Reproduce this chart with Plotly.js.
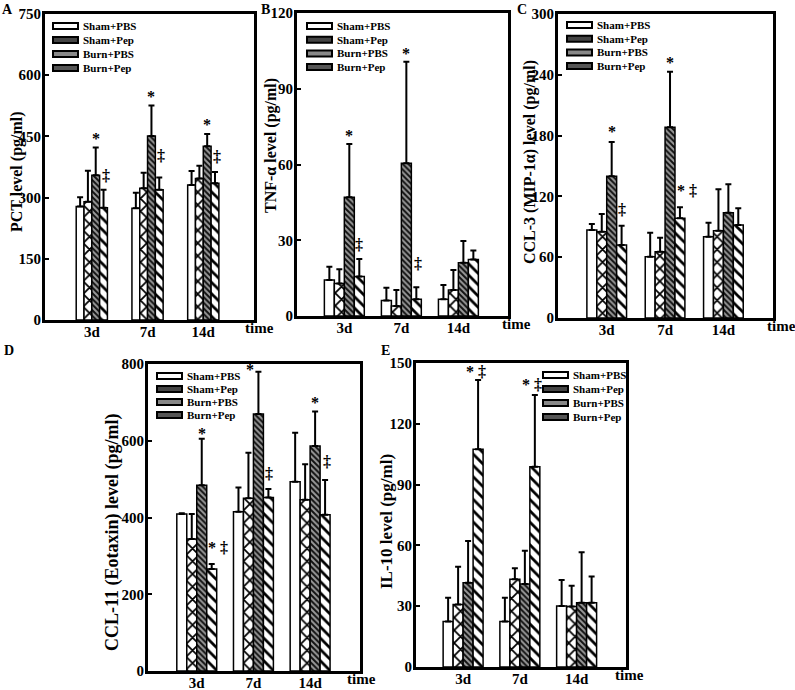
<!DOCTYPE html>
<html>
<head>
<meta charset="utf-8">
<script src="https://cdn.plot.ly/plotly-3.0.1.min.js"></script>
<style>
  body { margin: 0; background: white; }
  #chart { width: 795px; height: 690px; }
</style>
</head>
<body>
<div id="chart"></div>
<script>
// time points and groups
let cats = ['3d', '7d', '14d'];
let groups = ['Sham+PBS', 'Sham+Pep', 'Burn+PBS', 'Burn+Pep'];

// A: PCT (rows = groups, cols = time points)
let pctMean = [[278, 274, 331], [290, 323, 347], [355, 451, 426], [275, 319, 335]];
let pctSD   = [[23, 38, 34], [76, 38, 31], [68, 75, 30], [44, 30, 28]];

// B: TNF-alpha
let tnfMean = [[14.3, 6.1, 6.6], [12.9, 4.0, 10.3], [47, 60.5, 21.1], [15.6, 6.6, 22.4]];
let tnfSD   = [[5.2, 5.1, 5.7], [5.6, 6.3, 7.9], [21.1, 40.2, 8.6], [7.0, 4.8, 3.5]];

// C: CCL-3
let ccl3Mean = [[86.8, 60.5, 80.3], [85.2, 65.4, 86.2], [140, 188.2, 103.9], [72, 98.4, 91.8]];
let ccl3SD   = [[6, 23.7, 13.8], [17.4, 13.9, 40.8], [33.7, 54.8, 28], [19.1, 10.8, 16.4]];

// D: CCL-11
let ccl11Mean = [[409, 415, 493], [344, 450, 446], [484, 670, 586], [266, 452, 407]];
let ccl11SD   = [[2, 63, 128], [65, 119, 93], [121, 110, 90], [13, 22, 91]];

// E: IL-10
let il10Mean = [[22.4, 22.4, 30.1], [30.9, 43.3, 29.8], [41.6, 41.0, 31.7], [107.4, 98.8, 31.7]];
let il10SD   = [[11.8, 11.8, 12.8], [18.6, 5.4, 10.3], [20.6, 16.4, 24.9], [34.2, 35.4, 12.9]];

// significance marks: [time index, group index, text, xshift, yshift]
let pctSig = [[0, 2, '*', 0, 9], [0, 3, '‡', 2, 14], [1, 2, '*', 0, 9], [1, 3, '‡', 2, 22], [2, 2, '*', 0, 9], [2, 3, '‡', 2, 15]];
let tnfSig = [[0, 2, '*', 0, 9], [0, 3, '‡', 0, 14], [1, 2, '*', 0, 8], [1, 3, '‡', 2, 24]];
let ccl3Sig = [[0, 2, '*', 0, 10], [0, 3, '‡', 0, 16], [1, 2, '*', 0, 9], [1, 3, '* ‡', 7, 17]];
let ccl11Sig = [[0, 2, '*', 0, 5], [0, 3, '* ‡', 6, 16], [1, 2, '*', -8, 2], [1, 3, '‡', 1, 16], [2, 2, '*', 0, 9], [2, 3, '‡', 2, 18]];
let il10Sig = [[0, 3, '* ‡', -2, 9], [1, 3, '* ‡', -3, 11]];

let W = 795, H = 690;
let serif = 'Liberation Serif, Times New Roman, serif';

let styles = [
  {color: 'white', line: {color: 'black', width: 1.5}},
  {color: 'white', line: {color: 'black', width: 1.5},
   pattern: {shape: 'x', fgcolor: 'black', bgcolor: 'white', size: 9, solidity: 0.35}},
  {color: 'white', line: {color: 'black', width: 1.5},
   pattern: {shape: '\\', fgcolor: '#111', bgcolor: '#999', size: 4, solidity: 0.5}},
  {color: 'white', line: {color: 'black', width: 1.5},
   pattern: {shape: '\\', fgcolor: 'black', bgcolor: 'white', size: 8, solidity: 0.35}}
];
// fill of the small legend keys
let keyFill = ['white', '#444', '#888', '#555'];

// panel boxes in pixels: left, right, top, bottom; leg = [key left, first row y, row step]
let panels = [
  {mean: pctMean, sd: pctSD, sig: pctSig, box: [45, 254, 14, 320], xr: [-0.84, 2.91], yr: [0, 750], dt: 150, w: 0.14,
   title: 'PCT level (pg/ml)', tx: 17, ty: 172, tsize: 16, letter: 'A', lx: 7, ly: 10, time: 243, leg: [53, 26, 14]},
  {mean: tnfMean, sd: tnfSD, sig: tnfSig, box: [297, 508, 13, 316], xr: [-0.83, 2.87], yr: [0, 120], dt: 30, w: 0.175,
   title: 'TNF-α level (pg/ml)', tx: 271, ty: 146, tsize: 16, letter: 'B', lx: 265, ly: 10, time: 500, leg: [307, 26, 13.7]},
  {mean: ccl3Mean, sd: ccl3SD, sig: ccl3Sig, box: [558, 773, 14, 318], xr: [-0.835, 2.85], yr: [0, 300], dt: 60, w: 0.17,
   title: 'CCL-3 (MIP-1α) level (pg/ml)', tx: 530, ty: 162, tsize: 16, letter: 'C', lx: 522, ly: 10, time: 765, leg: [567, 25, 13.7]},
  {mean: ccl11Mean, sd: ccl11SD, sig: ccl11Sig, box: [148, 360, 364, 671], xr: [-0.86, 2.88], yr: [0, 800], dt: 200, w: 0.176,
   title: 'CCL-11 (Eotaxin) level (pg/ml)', tx: 112, ty: 533, tsize: 18, letter: 'D', lx: 9, ly: 350, time: 345, leg: [157, 376, 13]},
  {mean: il10Mean, sd: il10SD, sig: il10Sig, box: [416, 626, 363, 667], xr: [-0.83, 2.87], yr: [0, 150], dt: 30, w: 0.176,
   title: 'IL-10 level (pg/ml)', tx: 386, ty: 522, tsize: 17, letter: 'E', lx: 385, ly: 350, time: 613, leg: [543, 375, 14]}
];

let data = [];
let layout = {
  width: W, height: H,
  margin: {l: 0, r: 0, t: 0, b: 0},
  paper_bgcolor: 'white', plot_bgcolor: 'white',
  barmode: 'overlay',
  showlegend: false,
  font: {family: serif, color: 'black'},
  annotations: [],
  shapes: []
};

function txt(x, y, text, size, anchor, angle) {
  return {
    xref: 'paper', yref: 'paper', x: x / W, y: 1 - y / H,
    text: text, showarrow: false, textangle: angle || 0,
    xanchor: anchor, yanchor: 'middle',
    font: {family: serif, size: size, weight: 'bold', color: 'black'}
  };
}

panels.forEach(function(p, i) {
  let n = i + 1;
  let xs = n === 1 ? '' : String(n);

  for (let k = 0; k < 4; k++) {
    data.push({
      type: 'bar',
      x: cats,
      y: p.mean[k],
      name: groups[k],
      xaxis: 'x' + xs,
      yaxis: 'y' + xs,
      width: p.w,
      offset: (k - 2) * p.w,
      marker: styles[k],
      error_y: {type: 'data', symmetric: false, array: p.sd[k], arrayminus: [0, 0, 0],
                color: 'black', thickness: 2, width: 3}
    });

    // legend key + label
    let ry = p.leg[1] + k * p.leg[2];
    layout.shapes.push({
      type: 'rect', xref: 'paper', yref: 'paper',
      x0: p.leg[0] / W, x1: (p.leg[0] + 25) / W,
      y0: 1 - (ry - 3) / H, y1: 1 - (ry + 3) / H,
      fillcolor: keyFill[k], line: {color: 'black', width: 2}
    });
    layout.annotations.push(txt(p.leg[0] + 28, ry, groups[k], 11, 'left'));
  }

  layout['xaxis' + xs] = {
    domain: [p.box[0] / W, p.box[1] / W],
    anchor: 'y' + xs,
    type: 'category',
    range: p.xr,
    showline: true, mirror: true, linewidth: 3, linecolor: 'black',
    showgrid: false, zeroline: false, ticks: '',
    ticklabelstandoff: -4,
    tickfont: {family: serif, size: 15, weight: 'bold', color: 'black'}
  };
  layout['yaxis' + xs] = {
    domain: [1 - p.box[3] / H, 1 - p.box[2] / H],
    anchor: 'x' + xs,
    range: p.yr, dtick: p.dt,
    showline: true, mirror: true, linewidth: 3, linecolor: 'black',
    showgrid: false, zeroline: false,
    ticks: 'inside', ticklen: 4, tickwidth: 2, tickcolor: 'black',
    ticklabelstandoff: -2,
    tickfont: {family: serif, size: 15, weight: 'bold', color: 'black'}
  };

  layout.annotations.push(txt(p.tx, p.ty, p.title, p.tsize, 'center', -90));
  layout.annotations.push(txt(p.lx, p.ly, p.letter, 14, 'center'));
  layout.annotations.push(txt(p.time, p.box[3] + 8, 'time', 15, 'left'));

  // significance marks above the error bars
  p.sig.forEach(function(s) {
    let g = s[0], k = s[1];
    layout.annotations.push({
      xref: 'x' + xs, yref: 'y' + xs,
      x: g + (k - 1.5) * p.w,
      y: p.mean[k][g] + p.sd[k][g],
      text: s[2], showarrow: false, xanchor: 'center', yanchor: 'middle',
      xshift: s[3], yshift: s[4],
      font: {family: serif, size: 16, weight: 'bold', color: 'black'}
    });
  });
});

Plotly.newPlot(document.getElementById('chart'), data, layout, {displayModeBar: false});
</script>
</body>
</html>
